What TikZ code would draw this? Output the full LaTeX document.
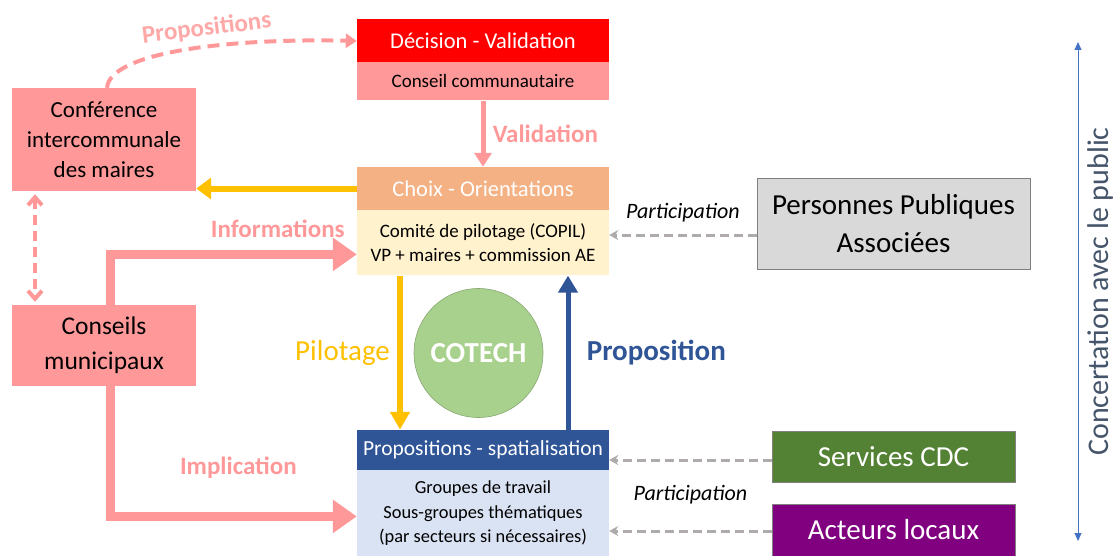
\documentclass[tikz,border=0pt]{standalone}
\usepackage{fontspec}
\setmainfont{Carlito}
\usetikzlibrary{positioning,arrows.meta}
\definecolor{rouge}{HTML}{FF0000}
\definecolor{rose}{HTML}{FF9999}
\definecolor{orange}{HTML}{F4B183}
\definecolor{creme}{HTML}{FFF2CC}
\definecolor{jaune}{HTML}{FFC000}
\definecolor{marine}{HTML}{2F5597}
\definecolor{bleupale}{HTML}{DAE3F3}
\definecolor{vertclair}{HTML}{A9D18E}
\definecolor{vertfonce}{HTML}{548235}
\definecolor{violet}{HTML}{800080}
\definecolor{grisclair}{HTML}{D9D9D9}
\definecolor{gristrait}{HTML}{AFABAB}
\definecolor{bleuligne}{HTML}{4472C4}
\definecolor{ardoise}{HTML}{44546A}
\begin{document}
\begin{tikzpicture}[x=1pt,y=-1pt,
		box/.style={rectangle,inner sep=0pt,align=center,minimum width=252pt},
		head/.style={box,text=white,font=\fontsize{22.5}{26}\selectfont},
		body/.style={box,font=\fontsize{19}{24}\selectfont},
		side/.style={rectangle,inner sep=0pt,align=center,fill=rose,minimum width=184pt},
		ext/.style={rectangle,inner sep=0pt,align=center,draw=gray,line width=0.8pt,font=\fontsize{29}{38}\selectfont},
		lbl/.style={font=\fontsize{25}{28}\selectfont\bfseries,text=rose},
		part/.style={font=\fontsize{22}{24}\selectfont\itshape},
		grisfleche/.style={draw=gristrait,line width=3pt,dash pattern=on 9pt off 5pt,-{Stealth[length=9pt,width=10pt]}}]
	\useasboundingbox (0,0) rectangle (1115,556);
	% colonne centrale
	\node[head,fill=rouge,minimum height=43pt] (decision) at (483,40.5) {Décision - Validation};
	\node[body,fill=rose,minimum height=38pt,below=0pt of decision] (conseilcom) {Conseil communautaire};
	\node[head,fill=orange,minimum height=43pt] (choix) at (483,188.5) {Choix - Orientations};
	\node[body,fill=creme,minimum height=65pt,below=0pt of choix] (copil) {Comité de pilotage (COPIL)\\VP + maires + commission AE};
	\node[head,fill=marine,minimum height=40pt,font=\fontsize{21.5}{24}\selectfont] (propspat) at (483,450) {Propositions - spatialisation};
	\node[body,fill=bleupale,minimum height=86pt,below=0pt of propspat,font=\fontsize{18.4}{24.5}\selectfont] (groupes) {Groupes de travail\\Sous-groupes thématiques\\(par secteurs si nécessaires)};
	\node[circle,fill=vertclair,draw=vertclair!80!black,line width=0.6pt,minimum size=129pt,inner sep=0pt,
		text=white,font=\fontsize{29}{32}\selectfont\bfseries] (cotech) at (478.5,353) {COTECH};
	% colonne de gauche
	\node[side,minimum height=103pt,font=\fontsize{23}{30}\selectfont] (conference) at (104,139.5) {Conférence\\intercommunale\\des maires};
	\node[side,minimum height=81pt,font=\fontsize{25.5}{35}\selectfont] (conseils) at (104,345.5) {Conseils\\municipaux};
	% partenaires
	\node[ext,fill=grisclair,minimum width=273pt,minimum height=91pt] (ppa) at (893.5,223.5) {Personnes Publiques\\Associées};
	\node[ext,fill=vertfonce,text=white,minimum width=243pt,minimum height=51pt] (services) at (893.5,456.5) {Services CDC};
	\node[ext,fill=violet,text=white,minimum width=243pt,minimum height=52pt] (acteurs) at (893.5,530) {Acteurs locaux};
	\coordinate (ctop) at (1078,42);
	\coordinate (cbot) at (1078,541);
	% fleches
	\draw[rose,line width=5pt,-{Triangle[length=14pt,width=17pt]}] (conseilcom.south) -- (choix.north)
		node[midway,right=4pt,lbl] {Validation};
	\draw[jaune,line width=6pt,-{Triangle[length=15pt,width=21pt]}] (choix.west) -- (choix.west -| conference.east);
	\draw[rose,line width=4pt,dash pattern=on 12pt off 7pt,-{Triangle[length=11pt,width=14pt]}]
		([xshift=3pt]conference.north) .. controls (110,52) and (230,38) .. ([yshift=-0.5pt]decision.west)
		node[pos=0.58,sloped,above=2pt,lbl,text=rose!85] {Propositions};
	\draw[rose,line width=4pt,dash pattern=on 10pt off 6pt,{Straight Barb[length=8pt,width=14pt]}-{Straight Barb[length=8pt,width=14pt]}]
		([xshift=-69pt,yshift=-3pt]conference.south) -- ([xshift=-69pt,yshift=3pt]conseils.north);
	\draw[rose,line width=9pt,-{Triangle[length=24pt,width=32pt]}] ([xshift=6pt]conseils.north) |- ([yshift=-11.5pt]copil.west)
		node[pos=0.84,above=9pt,lbl] {Informations};
	\draw[rose,line width=9pt,-{Triangle[length=24pt,width=32pt]}] ([xshift=6pt]conseils.south) |- ([yshift=-3pt]groupes.west)
		node[pos=0.76,above=30pt,lbl] {Implication};
	\draw[jaune,line width=5.5pt,-{Triangle[length=18pt,width=19pt]}] ([xshift=-83pt]copil.south) -- ([xshift=-83pt]propspat.north)
		node[midway,left=4pt,text=jaune,font=\fontsize{29}{32}\selectfont] {Pilotage};
	\draw[marine,line width=5pt,-{Triangle[length=17pt,width=19pt]}] ([xshift=85pt]propspat.north) -- ([xshift=85pt]copil.south)
		node[midway,right=13pt,text=marine,font=\fontsize{29}{32}\selectfont\bfseries] {Proposition};
	\draw[grisfleche] ([yshift=-11.5pt]ppa.west) -- ([yshift=-11.5pt]ppa.west -| copil.east)
		node[midway,above=8pt,part] {Participation};
	\draw[grisfleche] ([yshift=-3.5pt]services.west) -- ([yshift=-3.5pt]services.west -| propspat.east);
	\draw[grisfleche] ([yshift=-1pt]acteurs.west) -- ([yshift=-1pt]acteurs.west -| groupes.east)
		node[midway,above=22pt,part] {Participation};
	\draw[bleuligne,line width=1pt,{Triangle[length=8pt,width=7pt]}-{Triangle[length=8pt,width=7pt]}] (cbot) -- (ctop)
		node[midway,sloped,below=6pt,text=ardoise,font=\fontsize{30}{32}\selectfont] {Concertation avec le public};
\end{tikzpicture}
\end{document}
